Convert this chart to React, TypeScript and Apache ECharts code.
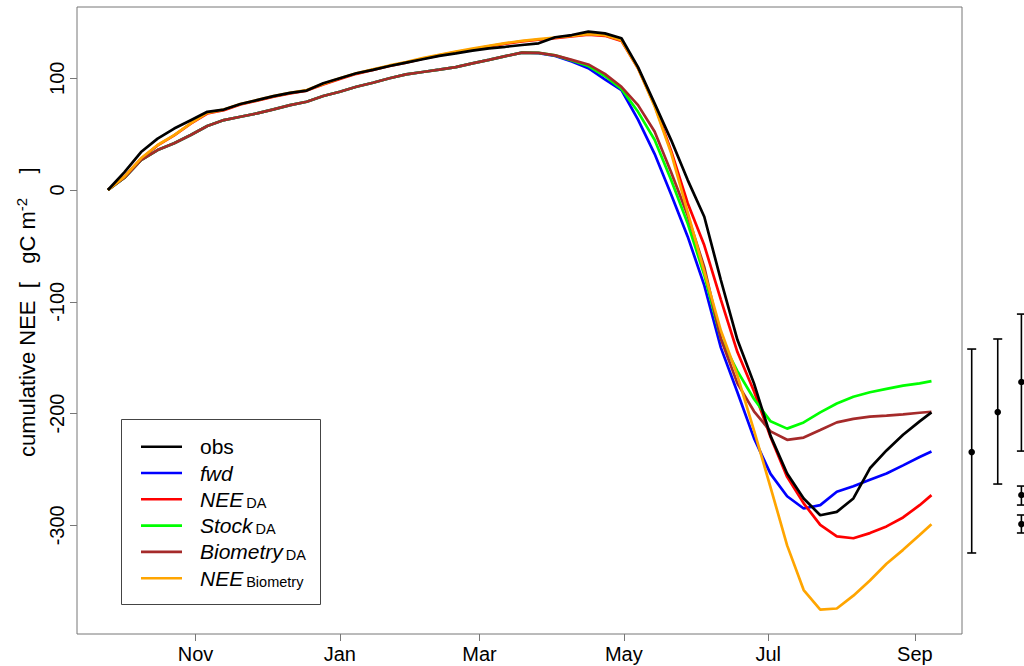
import React, { useEffect, useRef } from "react";
import * as echarts from "echarts";

// Weekly sampling dates of the cumulative flux
const dates = [
  "2012-09-25", "2012-10-02", "2012-10-09", "2012-10-16", "2012-10-23", "2012-10-30",
  "2012-11-06", "2012-11-13", "2012-11-20", "2012-11-27", "2012-12-04", "2012-12-11",
  "2012-12-18", "2012-12-25", "2013-01-01", "2013-01-08", "2013-01-15", "2013-01-22",
  "2013-01-29", "2013-02-05", "2013-02-12", "2013-02-19", "2013-02-26", "2013-03-05",
  "2013-03-12", "2013-03-19", "2013-03-26", "2013-04-02", "2013-04-09", "2013-04-16",
  "2013-04-23", "2013-04-30", "2013-05-07", "2013-05-14", "2013-05-21", "2013-05-28",
  "2013-06-04", "2013-06-11", "2013-06-18", "2013-06-25", "2013-07-02", "2013-07-09",
  "2013-07-16", "2013-07-23", "2013-07-30", "2013-08-06", "2013-08-13", "2013-08-20",
  "2013-08-27", "2013-09-03", "2013-09-08",
];

const obs = [
  0, 16, 34, 46, 55, 62.5, 70, 72, 77, 80.5, 84, 87, 89, 95.5, 100, 104.5, 107.5, 111,
  114, 117, 120, 122.3, 124.7, 126.8, 128.2, 129.8, 131.3, 136.7, 138.7, 141.7, 140.2,
  135.8, 110, 77.6, 44.7, 8.9, -23.9, -80.5, -134, -173, -220, -253.6, -276, -291, -288,
  -276, -249, -233, -219, -207, -199,
];

const fwd = [
  0, 11, 26.8, 35.8, 41.8, 49.2, 57.3, 62.6, 65.6, 68.6, 72.2, 76, 79, 84.1, 88, 92.4, 96,
  100, 103.5, 105.6, 107.7, 110, 113.3, 116.5, 119.8, 123, 122.5, 120, 115, 109, 99, 89.5,
  63, 32.4, -4, -41.7, -85.3, -141, -181, -222, -254, -274, -285, -282, -270, -265,
  -259.3, -253.7, -246.4, -238.9, -234,
];

const neeDA = [
  0, 12, 28, 40, 49, 59.5, 68.5, 71.5, 76.5, 80, 83.5, 86.5, 89, 94.5, 99.5, 104, 107.5,
  111, 114, 117.5, 120.5, 123.5, 126, 128.5, 131, 133, 134.5, 136, 137.5, 139, 138, 133.5,
  109, 76, 35, -11.8, -49.5, -98, -145, -180, -221, -256.7, -280.4, -299.7, -310, -311.6,
  -307, -301, -293, -282, -273,
];

const stockDA = [
  0, 11, 26.8, 35.8, 41.8, 49.2, 57.3, 62.6, 65.6, 68.6, 72.2, 76, 79, 84.1, 88, 92.4, 96,
  100, 103.5, 105.6, 107.7, 110, 113.3, 116.5, 119.8, 123, 122.7, 120.5, 116, 111, 102,
  90.5, 70, 45, 9, -30, -76, -133, -162, -187, -207, -213.5, -208, -199, -191, -185, -181,
  -178, -175, -173, -171,
];

const biometryDA = [
  0, 11, 26.8, 35.8, 41.8, 49.2, 57.3, 62.6, 65.6, 68.6, 72.2, 76, 79, 84.1, 88, 92.4, 96,
  100, 103.5, 105.6, 107.7, 110, 113.3, 116.5, 119.8, 123, 122.8, 120.5, 116.5, 112.4, 104,
  92.4, 76, 52.4, 16, -22.8, -69, -133, -173, -198, -216, -223.5, -221.5, -214.8, -207.9,
  -204.8, -202.8, -201.8, -200.7, -199.3, -198.4,
];

const neeBiometry = [
  0, 12, 28.4, 40.3, 49.2, 59.7, 69, 72, 77, 80.5, 84, 87, 89.5, 95, 100, 104.5, 108, 111.5,
  114.5, 118, 121, 124, 126.5, 129, 131.5, 133.5, 135, 136.5, 138, 139.5, 138.5, 134, 109,
  75, 33, -20, -73, -125.7, -166, -215, -266, -318, -358, -375.5, -374.5, -363, -349.4,
  -334.5, -322, -308.8, -299,
];

// End-of-period estimates with their uncertainty ranges
const errDates = ["2013-09-25", "2013-10-06", "2013-10-16", "2013-10-16", "2013-10-16"];
const errMean = [-234.5, -198.7, -171.8, -272.9, -298.9];
const errLow = [-324.8, -263.1, -233.6, -281.9, -306.9];
const errHigh = [-142.3, -133.3, -111, -264.9, -290.8];

const tickDates = ["2012-11-01", "2013-01-01", "2013-03-01", "2013-05-01", "2013-07-01", "2013-09-01"];
const tickLabels = ["Nov", "Jan", "Mar", "May", "Jul", "Sep"];
const yTicks = [-300, -200, -100, 0, 100];

const FONT = "'Liberation Sans', Arial, Helvetica, sans-serif";
const DAY = 86400000;

const toTime = (s: string) => {
  const [y, m, d] = s.split("-").map(Number);
  return new Date(y, m - 1, d).getTime();
};

// drawing order: observations last so they sit on top
const seriesDefs = [
  { name: "fwd", values: fwd, color: "#0000FF" },
  { name: "NEE_DA", values: neeDA, color: "#FF0000" },
  { name: "Stock_DA", values: stockDA, color: "#00FF00" },
  { name: "Biometry_DA", values: biometryDA, color: "#A52A2A" },
  { name: "NEE_Biometry", values: neeBiometry, color: "#FFA500" },
  { name: "obs", values: obs, color: "#000000" },
];

const legendItems = [
  { main: "obs", sub: "", italic: false, color: "#000000" },
  { main: "fwd", sub: "", italic: true, color: "#0000FF" },
  { main: "NEE", sub: "DA", italic: true, color: "#FF0000" },
  { main: "Stock", sub: "DA", italic: true, color: "#00FF00" },
  { main: "Biometry", sub: "DA", italic: true, color: "#A52A2A" },
  { main: "NEE", sub: "Biometry", italic: true, color: "#FFA500" },
];

export default function App() {
  const ref = useRef<HTMLDivElement>(null);

  useEffect(() => {
    if (!ref.current) return;
    const chart = echarts.init(ref.current, undefined, { renderer: "svg" });

    const base = toTime("2012-09-25");
    const xMin = base - 13.06 * DAY;
    const xMax = base + 360.9 * DAY;
    const tickTimes = tickDates.map(toTime);

    const lineSeries = seriesDefs.map((s) => ({
      name: s.name,
      type: "line",
      data: dates.map((d, i) => [toTime(d), s.values[i]]),
      showSymbol: false,
      symbol: "none",
      lineStyle: { color: s.color, width: 2.7 },
      itemStyle: { color: s.color },
      clip: true,
    }));

    const errSeries = {
      type: "custom",
      clip: false,
      data: errDates.map((d, i) => [toTime(d), errMean[i], errLow[i], errHigh[i]]),
      encode: { x: 0, y: 1 },
      renderItem: (_params: any, api: any) => {
        const t = api.value(0);
        const pM = api.coord([t, api.value(1)]);
        const pL = api.coord([t, api.value(2)]);
        const pH = api.coord([t, api.value(3)]);
        const cap = 4.5;
        const st = { stroke: "#000", lineWidth: 1.6 };
        return {
          type: "group",
          children: [
            { type: "line", shape: { x1: pM[0], y1: pH[1], x2: pM[0], y2: pL[1] }, style: st },
            { type: "line", shape: { x1: pM[0] - cap, y1: pH[1], x2: pM[0] + cap, y2: pH[1] }, style: st },
            { type: "line", shape: { x1: pM[0] - cap, y1: pL[1], x2: pM[0] + cap, y2: pL[1] }, style: st },
            { type: "circle", shape: { cx: pM[0], cy: pM[1], r: 3.3 }, style: { fill: "#000" } },
          ],
        };
      },
    };

    // hand-drawn legend box
    const legendTop = 446.7;
    const legendStep = 26.3;
    const legendGraphics: any[] = [
      {
        type: "rect",
        shape: { x: 121.5, y: 419.5, width: 199, height: 185 },
        style: { fill: "#fff", stroke: "#444", lineWidth: 1 },
        z: 100,
      },
    ];
    legendItems.forEach((it, i) => {
      const y = legendTop + i * legendStep;
      legendGraphics.push({
        type: "line",
        shape: { x1: 141, y1: y, x2: 182, y2: y },
        style: { stroke: it.color, lineWidth: 2.6 },
        z: 101,
      });
      legendGraphics.push({
        type: "text",
        x: 200,
        y: y,
        z: 101,
        style: {
          text: it.sub ? `{m|${it.main}}{s|${it.sub}}` : `{m|${it.main}}`,
          align: "left",
          verticalAlign: "middle",
          fill: "#000",
          rich: {
            m: {
              fontFamily: FONT,
              fontSize: 21,
              fontStyle: it.italic ? "italic" : "normal",
              lineHeight: 22,
              fill: "#000",
            },
            s: {
              fontFamily: FONT,
              fontSize: 14.5,
              lineHeight: 10,
              verticalAlign: "bottom",
              padding: [0, 0, 0, 3],
              fill: "#000",
            },
          },
        },
      });
    });

    // rotated axis title, starting at its lower end
    const yTitle = {
      type: "text",
      x: 27,
      y: 457,
      rotation: Math.PI / 2,
      style: {
        text: "{t|cumulative NEE  [   gC m}{p|-2}{t|    ]}",
        align: "left",
        verticalAlign: "middle",
        rich: {
          t: { fontFamily: FONT, fontSize: 22, lineHeight: 26, fill: "#000" },
          p: { fontFamily: FONT, fontSize: 15, lineHeight: 11, verticalAlign: "top", fill: "#000" },
        },
      },
    };

    chart.setOption({
      animation: false,
      backgroundColor: "#fff",
      grid: {
        left: 77,
        top: 7,
        width: 885,
        height: 627,
        show: true,
        borderColor: "#777",
        borderWidth: 1,
        backgroundColor: "transparent",
      },
      xAxis: {
        type: "value",
        min: xMin,
        max: xMax,
        splitLine: { show: false },
        axisLine: { show: false, onZero: false },
        axisTick: {
          show: true,
          customValues: tickTimes,
          length: 7,
          lineStyle: { color: "#777", width: 1 },
        },
        axisLabel: {
          customValues: tickTimes,
          formatter: (v: number) => {
            const i = tickTimes.findIndex((t) => Math.abs(t - v) < DAY / 2);
            return i >= 0 ? tickLabels[i] : "";
          },
          fontFamily: FONT,
          fontSize: 20,
          color: "#000",
          margin: 10,
          hideOverlap: false,
        },
      },
      yAxis: {
        type: "value",
        min: -397.3,
        max: 163.8,
        splitLine: { show: false },
        axisLine: { show: false, onZero: false },
        axisTick: {
          show: true,
          customValues: yTicks,
          length: 7,
          lineStyle: { color: "#777", width: 1 },
        },
        axisLabel: {
          customValues: yTicks,
          rotate: 90,
          fontFamily: FONT,
          fontSize: 20,
          color: "#000",
          margin: 10,
        },
      },
      series: [...lineSeries, errSeries],
      graphic: [yTitle, ...legendGraphics],
    });

    return () => chart.dispose();
  }, []);

  return (
    <div
      ref={ref}
      style={{ position: "fixed", left: 0, top: 0, width: 1024, height: 666, background: "#fff" }}
    />
  );
}
